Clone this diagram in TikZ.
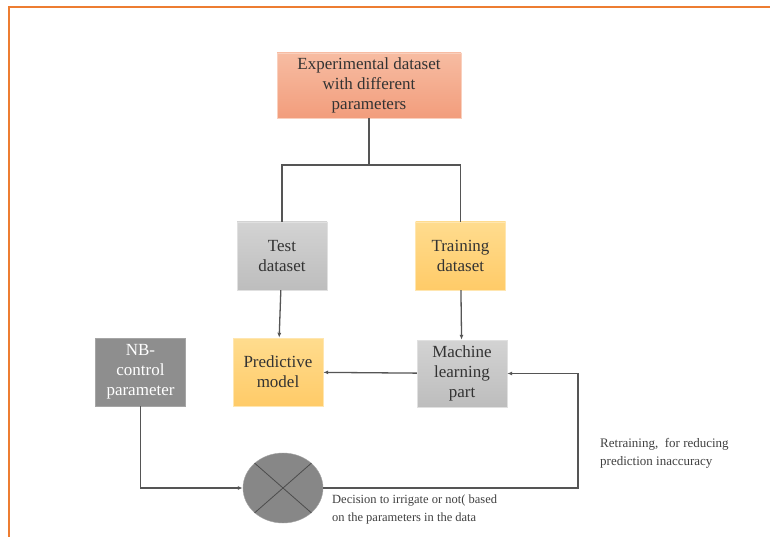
\documentclass[tikz,border=0pt]{standalone}
\usepackage{fontspec}
\setmainfont{Liberation Serif}
\usetikzlibrary{arrows.meta,shapes.geometric}
\definecolor{frameorange}{HTML}{ED7D31}
\definecolor{salmontop}{HTML}{F7BCA2}
\definecolor{salmonbot}{HTML}{F29D7C}
\definecolor{greytop}{HTML}{D3D3D3}
\definecolor{greybot}{HTML}{BDBDBD}
\definecolor{yellowtop}{HTML}{FFDC8E}
\definecolor{yellowbot}{HTML}{FFCB68}
\definecolor{darkbox}{HTML}{8E8E8E}
\definecolor{wire}{HTML}{555555}
\begin{document}
\begin{tikzpicture}[x=1pt, y=-1pt,
  box/.style = {minimum width=90pt, minimum height=68pt, align=center, inner sep=1pt,
                font=\fontsize{17}{20}\selectfont, text=black!80},
  salmon/.style = {box, top color=salmontop, bottom color=salmonbot, draw=salmontop!70!white},
  grey/.style = {box, top color=greytop, bottom color=greybot, draw=greytop!70!white},
  yellow/.style = {box, top color=yellowtop, bottom color=yellowbot, draw=yellowtop!70!white},
  dark/.style = {box, fill=darkbox, draw=darkbox!80!white, text=white},
  wireline/.style = {draw=wire, line width=1.3pt},
  arrow/.style = {wireline, -{Latex[length=5pt,width=4pt]}},
  note/.style = {align=left, anchor=north west, inner sep=0pt, text=black!75,
                 font=\fontsize{12.5}{18}\selectfont}]
  \useasboundingbox (0,0) rectangle (770,537);
  \fill[white] (0,0) rectangle (770,537);
  % frame
  \draw[frameorange, line width=2.5pt] (9,537) -- (9,7) -- (770,7);
  % boxes
  \node[salmon, minimum width=184pt, minimum height=65pt] (exp) at (369,85.5) {Experimental dataset\\with different\\parameters};
  \node[grey] (test) at (282,256) {Test\\dataset};
  \node[yellow] (train) at (460.5,256) {Training\\dataset};
  \node[yellow] (pred) at (278,372) {Predictive\\model};
  \node[grey, minimum height=67pt] (ml) at (462,373.5) {Machine\\learning\\part};
  \node[dark] (nb) at (140.5,372) {NB-\\control\\parameter};
  \node[ellipse, fill=darkbox!95!black, draw=darkbox!80!white, minimum width=80pt, minimum height=70pt] (dec) at (283,488) {};
  \draw[wire!90!black, line width=0.8pt] (dec.north west) -- (dec.south east);
  \draw[wire!90!black, line width=0.8pt] (dec.north east) -- (dec.south west);
  % labels
  \node[note] (declbl) at (332,495) {Decision to irrigate or not( based\\on the parameters in the data};
  \node[note, font=\fontsize{13}{18}\selectfont] (retrainlbl) at (600,438) {Retraining,\ \ for reducing\\prediction inaccuracy};
  % connectors
  \coordinate (split) at (369,165);
  \coordinate (retrain) at (578,488);
  \draw[wireline] (exp) -- (split);
  \draw[wireline] (test.north) |- (split) -| (train.north);
  \draw[arrow] (test) -- (pred);
  \draw[arrow] (train) -- (ml);
  \draw[arrow] (ml) -- (pred);
  \draw[arrow] (nb.south) |- (dec.west);
  \draw[arrow] (dec.east) -- (retrain) |- (ml.east);
\end{tikzpicture}
\end{document}
